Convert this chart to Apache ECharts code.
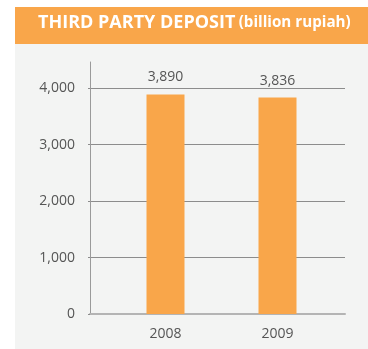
<!DOCTYPE html>
<html>
<head>
<meta charset="utf-8">
<script src="https://cdn.jsdelivr.net/npm/echarts@6/dist/echarts.min.js"></script>
<style>
  html, body { margin: 0; padding: 0; background: #ffffff; }
  #chart { width: 368px; height: 349px; }
</style>
</head>
<body>
<div id="chart"></div>
<script>
// Third party deposit, in billion rupiah
const years = ['2008', '2009'];
const deposits = [3890, 3836];
const yTicks = [0, 1000, 2000, 3000, 4000];

const ORANGE = '#F9A64A';
const PANEL = '#F3F4F3';
const TEXT = '#555555';
const FONT = '"Open Sans", "Noto Sans", sans-serif';

const fmt = v => Number(v).toLocaleString('en-US');

const chart = echarts.init(document.getElementById('chart'), null, { renderer: 'canvas' });

chart.setOption({
  animation: false,
  backgroundColor: '#ffffff',
  graphic: [
    { type: 'rect', z: -10, shape: { x: 15, y: 7, width: 353, height: 342 }, style: { fill: PANEL } },
    { type: 'rect', z: -9, shape: { x: 15, y: 7, width: 353, height: 37 }, style: { fill: ORANGE } },
    {
      type: 'text', z: 10, left: 38, top: 14,
      style: {
        text: '{a|THIRD PARTY DEPOSIT} {b|(billion rupiah)}',
        rich: {
          a: { fontFamily: FONT, fontWeight: 'bold', fontSize: 18, fill: '#ffffff', lineHeight: 24 },
          b: { fontFamily: FONT, fontWeight: 'bold', fontSize: 15.2, fill: '#ffffff', lineHeight: 24 }
        }
      }
    }
  ],
  grid: [
    // frame: value axis, gridlines and baseline
    { left: 90, right: 23, top: 62, bottom: 35 },
    // bars and year labels
    { left: 109.5, right: 34.5, top: 62, bottom: 35 }
  ],
  xAxis: [
    {
      gridIndex: 0, type: 'value', min: 0, max: 1,
      axisLine: { show: true, onZero: false, lineStyle: { color: '#b4b4b4', width: 2 } },
      axisTick: { show: false }, axisLabel: { show: false }, splitLine: { show: false }
    },
    {
      gridIndex: 1, type: 'category', data: years,
      axisLine: { show: false }, axisTick: { show: false }, splitLine: { show: false },
      axisLabel: { color: TEXT, fontFamily: FONT, fontSize: 14, margin: 13 }
    }
  ],
  yAxis: [
    {
      gridIndex: 0, type: 'value', min: yTicks[0], max: 4466, interval: yTicks[1] - yTicks[0],
      axisLine: { show: true, lineStyle: { color: '#9a9a9a', width: 1 } },
      axisTick: { show: true, length: 2, lineStyle: { color: '#8c8c8c' } },
      axisLabel: {
        color: TEXT, fontFamily: FONT, fontSize: 14, margin: 15,
        showMaxLabel: false, formatter: fmt
      },
      splitLine: { show: true, showMinLine: false, showMaxLine: false, lineStyle: { color: '#8c8c8c', width: 1 } }
    },
    {
      gridIndex: 1, type: 'value', min: 0, max: 4466,
      axisLine: { show: false }, axisTick: { show: false },
      axisLabel: { show: false }, splitLine: { show: false }
    }
  ],
  series: [
    {
      type: 'bar', xAxisIndex: 1, yAxisIndex: 1,
      data: deposits, barWidth: 38,
      itemStyle: { color: ORANGE },
      label: {
        show: true, position: 'top', distance: 10,
        color: TEXT, fontFamily: FONT, fontSize: 14,
        formatter: p => fmt(p.value)
      }
    }
  ]
});
</script>
</body>
</html>
